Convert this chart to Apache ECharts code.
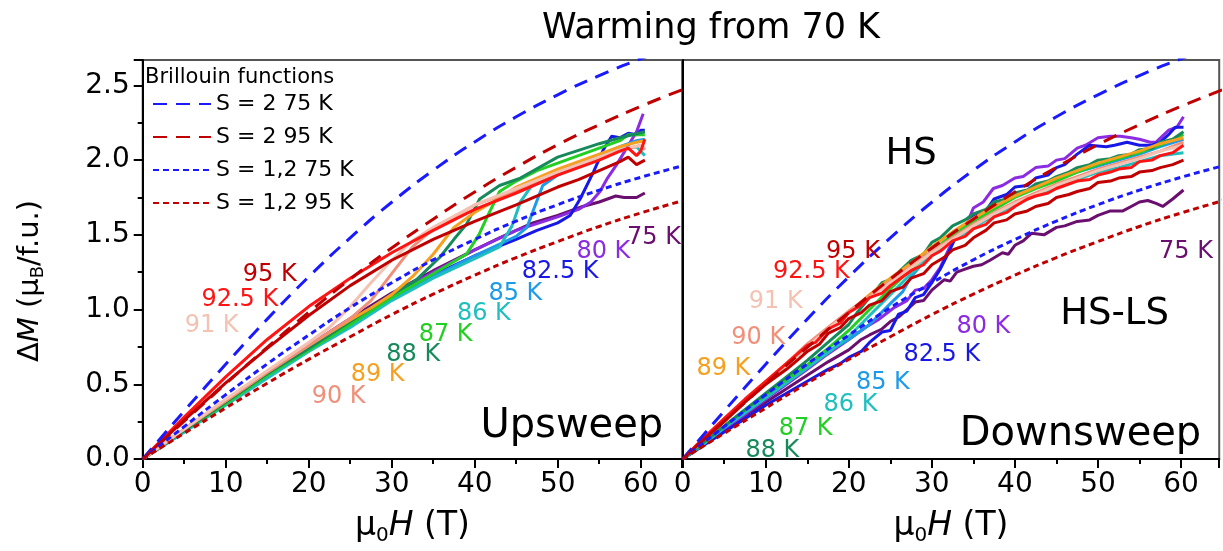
<!DOCTYPE html>
<html><head><meta charset="utf-8">
<script src="https://cdn.jsdelivr.net/npm/echarts@6/dist/echarts.min.js"></script>
<style>html,body{margin:0;padding:0;background:#fff}#c{width:1223px;height:551px}</style>
</head><body><div id="c"></div>
<script>
const FONT = '"DejaVu Sans", sans-serif';

// ---- temperatures & colours ----
const temps = ['75 K','80 K','82.5 K','85 K','86 K','87 K','88 K','89 K','90 K','91 K','92.5 K','95 K'];
const tempColors = ['#6b0f6f','#8b2be2','#1818e6','#1e9be8','#1fbfbf','#22cf22','#178a5c','#f5a01f','#f0907a','#f4c2b3','#ff1414','#c00000'];

// ---- Brillouin functions (field grid, values) ----
const bField = [0,5,10,15,20,25,30,35,40,45,50,55,60,65];
const bS2_75  = [0,0.321,0.634,0.936,1.219,1.480,1.718,1.932,2.122,2.290,2.437,2.566,2.678,2.780];
const bS2_95  = [0,0.253,0.503,0.747,0.981,1.204,1.412,1.605,1.787,1.952,2.103,2.237,2.360,2.471];
const bS12_75 = [0,0.217,0.430,0.636,0.829,1.013,1.179,1.333,1.469,1.592,1.702,1.799,1.885,1.961];
const bS12_95 = [0,0.172,0.341,0.507,0.667,0.818,0.966,1.103,1.230,1.348,1.455,1.556,1.646,1.728];

// ---- Upsweep data [field T, dM] ----
const up75 = [[0,0],[5,0.2],[10,0.39],[15,0.58],[20,0.76],[25,0.94],[30,1.11],[35,1.26],[40,1.4],[43,1.48],[45,1.53],[47,1.58],[50,1.63],[53,1.69],[55,1.72],[57,1.76],[58,1.75],[59.5,1.75],[60.5,1.78]];
const up80 = [[0,0],[5,0.19],[10,0.38],[15,0.57],[20,0.75],[25,0.92],[30,1.1],[35,1.25],[40,1.4],[45,1.53],[50,1.62],[52.5,1.67],[54,1.72],[55.1,1.79],[56,1.88],[57.1,1.97],[58.3,2.08],[59.5,2.19],[60.3,2.31]];
const up82 = [[0,0],[5,0.19],[10,0.38],[15,0.56],[20,0.74],[25,0.91],[30,1.09],[35,1.23],[40,1.36],[45,1.47],[47.5,1.53],[50,1.58],[51.5,1.63],[52.7,1.74],[54.3,1.92],[55.5,2.07],[56.5,2.16],[57.5,2.15],[58.5,2.18],[59.5,2.17],[60,2.2],[60.5,2.2]];
const up85 = [[0,0],[5,0.18],[10,0.37],[15,0.55],[20,0.73],[25,0.89],[30,1.07],[35,1.22],[40,1.36],[45,1.49],[46.3,1.55],[47.3,1.7],[48.2,1.83],[50,1.9],[55,2.03],[57.5,2.09],[59.5,2.13],[60.5,2.14]];
const up86 = [[0,0],[5,0.18],[10,0.36],[15,0.54],[20,0.72],[25,0.88],[30,1.06],[35,1.21],[40,1.34],[43,1.42],[44.5,1.56],[45.5,1.72],[47,1.84],[50,1.92],[55,2.03],[57.5,2.07],[59.5,2.09],[60.5,2.03]];
const up87 = [[0,0],[5,0.19],[10,0.37],[15,0.56],[20,0.73],[25,0.9],[30,1.08],[35,1.24],[39,1.37],[40.5,1.5],[41.5,1.62],[43,1.79],[45,1.86],[47.5,1.93],[50,1.98],[55,2.08],[57.5,2.13],[58.5,2.17],[60.5,2.17]];
const up88 = [[0,0],[5,0.19],[10,0.38],[15,0.57],[20,0.74],[25,0.92],[30,1.1],[33,1.2],[35.8,1.35],[37.5,1.47],[39,1.57],[40.6,1.74],[43,1.83],[45.5,1.88],[50,2.02],[55,2.11],[57.5,2.15],[59,2.17],[60.5,2.19]];
const up89 = [[0,0],[5,0.2],[10,0.39],[15,0.58],[20,0.76],[25,0.93],[27.5,1.01],[30,1.1],[32.5,1.22],[35,1.37],[37.5,1.55],[40,1.65],[42.5,1.73],[45,1.82],[50,1.94],[55,2.04],[57.5,2.09],[59.5,2.12],[60.5,2.13]];
const up90 = [[0,0],[5,0.2],[10,0.39],[15,0.58],[20,0.76],[25,0.94],[27.5,1.06],[30,1.24],[32.5,1.42],[35,1.54],[37.5,1.62],[40,1.7],[45,1.8],[50,1.92],[55,2.02],[57.5,2.06],[60,2.1],[60.5,2.07]];
const up91 = [[0,0],[5,0.2],[10,0.4],[15,0.59],[20,0.78],[22.5,0.88],[25,1.02],[27.5,1.18],[30,1.33],[32.5,1.46],[35,1.55],[40,1.7],[45,1.81],[50,1.92],[55,2.02],[57.5,2.07],[60,2.1],[60.5,2.08]];
const up92 = [[0,0],[5,0.28],[10,0.55],[15,0.8],[20,1.02],[25,1.21],[30,1.38],[35,1.53],[40,1.67],[45,1.78],[50,1.9],[52.5,1.95],[55,2.0],[57.5,2.06],[58.5,2.08],[59.5,2.03],[60,2.06],[60.5,2.14]];
const up95 = [[0,0],[5,0.26],[10,0.51],[15,0.74],[20,0.96],[25,1.16],[30,1.33],[35,1.47],[40,1.59],[45,1.7],[50,1.82],[52.5,1.87],[55,1.93],[57.5,1.99],[58.5,2.02],[59.5,1.97],[60.5,2.0]];

// ---- Downsweep data [field T, dM] ----
const dw75 = [[0,0],[2.5,0.1],[5,0.19],[7.5,0.29],[10,0.38],[12.5,0.47],[15,0.56],[17.5,0.65],[20,0.73],[21.5,0.8],[22.5,0.83],[24,0.87],[25,0.92],[26,0.95],[27,1.0],[28,1.05],[29,1.06],[30,1.13],[31.5,1.2],[32.2,1.19],[33,1.25],[34,1.27],[35,1.29],[36,1.3],[37,1.33],[38.5,1.38],[39.2,1.37],[40,1.43],[41,1.46],[42,1.51],[43.5,1.5],[45,1.55],[46,1.56],[47.5,1.59],[49,1.6],[50,1.63],[51.5,1.66],[53,1.66],[54,1.69],[55,1.72],[56,1.73],[57,1.71],[57.8,1.69],[59,1.74],[60.3,1.8]];
const dw80 = [[0,0],[2.5,0.1],[5,0.2],[7.5,0.3],[10,0.4],[12.5,0.5],[15,0.6],[17.4,0.7],[20,0.8],[22,0.88],[23.5,0.93],[25.4,1.01],[27,1.06],[28,1.13],[29,1.14],[30,1.2],[31,1.28],[32,1.4],[33,1.5],[34.2,1.57],[35,1.68],[36.2,1.72],[37.4,1.81],[38.5,1.83],[40,1.88],[41,1.89],[42.5,1.95],[44,1.96],[45,2.0],[46,2.01],[47.5,2.08],[48.5,2.1],[50,2.15],[51.5,2.16],[52.7,2.16],[54,2.15],[55,2.14],[56.3,2.12],[57,2.12],[58.5,2.2],[59.5,2.22],[60.3,2.29]];
const dw82 = [[0,0],[2.5,0.09],[5,0.18],[7.5,0.27],[10,0.36],[12.5,0.44],[15,0.52],[17.5,0.6],[19,0.64],[20,0.68],[21.5,0.72],[22.5,0.78],[24,0.85],[25,0.86],[26,0.97],[27,0.99],[28,1.08],[29,1.1],[30,1.18],[31,1.27],[32,1.38],[33,1.5],[34,1.55],[35,1.62],[36.5,1.66],[37.5,1.74],[39,1.77],[40,1.82],[41.5,1.83],[42.5,1.88],[44,1.9],[45,1.95],[46,1.97],[47.5,2.04],[49,2.1],[51,2.09],[52,2.1],[53.5,2.12],[55,2.1],[56.5,2.1],[57.5,2.12],[58.5,2.17],[59.3,2.22],[60.3,2.22]];
const dw85 = [[0,0],[2.5,0.1],[5,0.21],[7.5,0.31],[10,0.41],[12.5,0.51],[15,0.61],[17.5,0.72],[20,0.8],[22.5,0.9],[25,1.04],[26.5,1.12],[27.5,1.22],[30,1.38],[32.5,1.5],[35,1.6],[37.5,1.69],[40,1.76],[42.5,1.82],[45,1.87],[47.5,1.92],[50,1.96],[52.5,2.0],[55,2.04],[57.5,2.09],[60.3,2.14]];
const dw86 = [[0,0],[2.5,0.1],[5,0.21],[7.5,0.31],[10,0.41],[12.5,0.51],[15,0.61],[17.5,0.71],[20,0.82],[22.5,0.96],[25,1.1],[27.5,1.24],[30,1.36],[32.5,1.46],[35,1.55],[37.5,1.63],[40,1.7],[42.5,1.76],[45,1.82],[47.5,1.87],[50,1.92],[52.5,1.95],[55,1.99],[57.5,2.03],[60.3,2.05]];
const dw87 = [[0,0],[2.5,0.11],[5,0.22],[7.5,0.33],[10,0.43],[12.5,0.53],[15,0.63],[17.5,0.74],[20,0.86],[22.5,1.0],[25,1.14],[27.5,1.27],[30,1.39],[32.5,1.5],[35,1.59],[37.5,1.67],[40,1.75],[42.5,1.81],[45,1.86],[47.5,1.92],[50,1.97],[52.5,2.01],[55,2.05],[57.5,2.1],[60.3,2.17]];
const dw88 = [[0,0],[2.5,0.11],[5,0.22],[7.5,0.33],[10,0.44],[12.5,0.55],[15,0.66],[17.5,0.78],[20,0.9],[21,0.98],[22.5,1.08],[24,1.18],[25,1.2],[26,1.25],[27.5,1.33],[29,1.37],[30,1.45],[31,1.48],[32.5,1.56],[34,1.6],[35,1.64],[36.5,1.67],[37.5,1.72],[39,1.74],[40,1.78],[41.5,1.8],[42.5,1.84],[44,1.86],[45,1.89],[46.5,1.92],[47.5,1.95],[49,1.97],[50,2.0],[51.5,2.01],[52.5,2.03],[54,2.04],[55,2.07],[56.5,2.08],[57.5,2.12],[59,2.14],[60.3,2.19]];
const dw89 = [[0,0],[2.5,0.13],[5,0.26],[7.5,0.39],[10,0.51],[12.5,0.63],[15,0.75],[17.5,0.87],[20,0.98],[22.5,1.1],[25,1.21],[27.5,1.31],[30,1.42],[32.5,1.52],[35,1.61],[37.5,1.69],[40,1.76],[42.5,1.82],[45,1.88],[47.5,1.93],[50,1.98],[52.5,2.02],[55,2.06],[57.5,2.11],[60.3,2.15]];
const dw90 = [[0,0],[2.5,0.13],[5,0.27],[7.5,0.4],[10,0.52],[12.5,0.64],[15,0.77],[17.5,0.88],[20,0.99],[22.5,1.09],[25,1.19],[27.5,1.29],[30,1.39],[32.5,1.48],[35,1.57],[37.5,1.65],[40,1.72],[42.5,1.78],[45,1.84],[47.5,1.89],[50,1.94],[52.5,1.98],[55,2.02],[57.5,2.06],[60.3,2.12]];
const dw91 = [[0,0],[2.5,0.13],[5,0.26],[7.5,0.39],[10,0.51],[12.5,0.63],[15,0.75],[17.5,0.87],[20,0.98],[22.5,1.08],[25,1.18],[27.5,1.28],[30,1.38],[32.5,1.47],[35,1.56],[37.5,1.64],[40,1.71],[42.5,1.77],[45,1.83],[47.5,1.88],[50,1.93],[52.5,1.97],[55,2.01],[57.5,2.06],[60.3,2.1]];
const dw92 = [[0,0],[2.5,0.14],[5,0.27],[7.5,0.4],[10,0.52],[12.5,0.64],[15,0.76],[16,0.78],[17.5,0.87],[19,0.91],[20,0.98],[21.5,1.03],[22.5,1.08],[24,1.11],[25,1.16],[26.5,1.22],[27.5,1.26],[29,1.3],[30,1.36],[31,1.39],[32.5,1.46],[34,1.49],[35,1.54],[36.5,1.57],[37.5,1.62],[39,1.65],[40,1.69],[41.5,1.74],[42.5,1.76],[44,1.78],[45,1.81],[46.5,1.84],[47.5,1.86],[49,1.87],[50,1.9],[51.5,1.92],[52.5,1.94],[54,1.95],[55,1.99],[56.5,2.0],[57.5,2.03],[59,2.05],[60.3,2.1]];
const dw95 = [[0,0],[2.5,0.13],[5,0.25],[7.5,0.38],[10,0.5],[12.5,0.6],[14,0.67],[15,0.72],[16.5,0.77],[17.5,0.84],[19,0.88],[20,0.94],[21.5,0.98],[22.5,1.03],[24,1.06],[25,1.12],[26.5,1.15],[27.5,1.21],[29,1.24],[30,1.3],[31.5,1.35],[32.5,1.4],[34,1.43],[35,1.48],[36.5,1.53],[37.5,1.58],[39,1.6],[40,1.64],[41.5,1.66],[42.5,1.69],[44,1.71],[45,1.75],[46.5,1.77],[47.5,1.79],[49,1.81],[50,1.85],[51.5,1.86],[52.5,1.88],[54,1.89],[55,1.92],[56.5,1.93],[57.5,1.95],[59,1.97],[60.3,2.0]];

// ---- tick labels ----
const xTickLabels = ['0','10','20','30','40','50','60'];
const yTickLabels = ['0.0','0.5','1.0','1.5','2.0','2.5'];

// ---- text annotations [field, dM, text] ----
const upLabels = [[15.3,1.266,'95 K'],[11.7,1.10,'92.5 K'],[8.3,0.927,'91 K'],[23.6,0.449,'90 K'],[28.3,0.598,'89 K'],[32.6,0.73,'88 K'],[36.5,0.867,'87 K'],[41.1,1.007,'86 K'],[44.9,1.14,'85 K'],[50.3,1.286,'82.5 K'],[55.5,1.425,'80 K'],[61.6,1.518,'75 K']];
const downLabels = [[20.5,1.42,'95 K'],[15.5,1.286,'92.5 K'],[11.2,1.09,'91 K'],[9.1,0.847,'90 K'],[4.9,0.641,'89 K'],[10.8,0.09,'88 K'],[14.8,0.239,'87 K'],[20.2,0.40,'86 K'],[24.1,0.548,'85 K'],[31.2,0.734,'82.5 K'],[36.2,0.918,'80 K'],[60.6,1.42,'75 K']];
const upPanelText = [[51.7,0.276,'Upsweep']];
const downPanelText = [[47.9,0.222,'Downsweep']];
const downRegionText = [[27.5,2.09,'HS'],[52.0,1.02,'HS-LS']];

const upData = [up75,up80,up82,up85,up86,up87,up88,up89,up90,up91,up92,up95];
const downData = [dw75,dw80,dw82,dw85,dw86,dw87,dw88,dw89,dw90,dw91,dw92,dw95];

const brill = [
  {name:'S = 2 75 K', vals:bS2_75, color:'#1a1aff', dash:[14,9]},
  {name:'S = 2 95 K', vals:bS2_95, color:'#c00000', dash:[14,9]},
  {name:'S = 1,2 75 K', vals:bS12_75, color:'#1a1aff', dash:[6,4]},
  {name:'S = 1,2 95 K', vals:bS12_95, color:'#c00000', dash:[6,4]}
];

const series = [];
[upData, downData].forEach((set, panel) => {
  set.forEach((d, i) => {
    series.push({
      name: temps[i], type:'line', xAxisIndex:panel, yAxisIndex:panel, data:d,
      symbol:'none', smooth:false, silent:true, z:2,
      lineStyle:{color:tempColors[i], width:3}, itemStyle:{color:tempColors[i]}
    });
  });
  brill.forEach(b => {
    series.push({
      name:b.name, type:'line', xAxisIndex:panel, yAxisIndex:panel,
      data: bField.map((h,k)=>[h,b.vals[k]]), symbol:'none', smooth:true, silent:true, z:3, clip:true,
      lineStyle:{color:b.color, width:3, type:b.dash}, itemStyle:{color:b.color}
    });
  });
});

function colorOf(t){ const k = temps.indexOf(t); return k>=0 ? tempColors[k] : '#000'; }
function textSeries(arr, panel, size, black){
  return {
    type:'custom', coordinateSystem:'cartesian2d', xAxisIndex:panel, yAxisIndex:panel, silent:true, z:10,
    data: arr.map(a => [a[0], a[1]]),
    renderItem: (params, api) => {
      const a = arr[params.dataIndex];
      const p = api.coord([api.value(0), api.value(1)]);
      return {type:'text', x:p[0], y:p[1] + size*0.22, style:{text:a[2], fill: black ? '#000' : colorOf(a[2]),
        font: size + 'px "DejaVu Sans", sans-serif', align:'center', verticalAlign:'middle'}};
    }
  };
}
series.push(textSeries(upLabels,0,24,false));
series.push(textSeries(downLabels,1,24,false));
series.push(textSeries(upPanelText,0,40,true));
series.push(textSeries(downPanelText,1,40,true));
series.push(textSeries(downRegionText,1,37,true));

const axisBlack = {lineStyle:{color:'#000', width:2}};
const richName = {
  a:{fontSize:33, fontFamily:FONT, color:'#000', lineHeight:40, verticalAlign:'middle'},
  i:{fontSize:33, fontFamily:FONT, color:'#000', fontStyle:'italic', lineHeight:40, verticalAlign:'middle'},
  s:{fontSize:20, fontFamily:FONT, color:'#000', lineHeight:14, verticalAlign:'bottom'}
};
function xAx(panel, max){
  return {
    type:'value', gridIndex:panel, min:0, max:max, interval:10,
    axisLine:axisBlack,
    axisTick:{show:true, inside:false, length:9, lineStyle:{color:'#000', width:2}},
    minorTick:{show:true, splitNumber:2, length:5, lineStyle:{color:'#000', width:2}},
    splitLine:{show:false}, minorSplitLine:{show:false},
    axisLabel:{fontSize:28, fontFamily:FONT, color:'#000', margin:12,
      formatter: v => { const s = String(Math.round(v)); return (Math.abs(v/10-Math.round(v/10))<1e-6 && xTickLabels.includes(s)) ? s : ''; }},
    name:'{a|μ}{s|0}{i|H}{a| (T)}', nameLocation:'middle', nameGap:47,
    nameTextStyle:{rich:richName}
  };
}
function yAx(panel, showLabels){
  return {
    type:'value', gridIndex:panel, min:0, max:2.67, interval:0.5,
    axisLine:axisBlack,
    axisTick:{show:showLabels, length:9, lineStyle:{color:'#000', width:2}},
    minorTick:{show:showLabels, splitNumber:2, length:5, lineStyle:{color:'#000', width:2}},
    splitLine:{show:false}, minorSplitLine:{show:false},
    axisLabel:{show:showLabels, fontSize:28, fontFamily:FONT, color:'#000', margin:13,
      formatter: v => { const s = v.toFixed(1); return (Math.abs(v*2-Math.round(v*2))<1e-6 && yTickLabels.includes(s)) ? s : ''; }}
  };
}

const option = {
  animation:false,
  backgroundColor:'#fff',
  title:{text:'Warming from 70 K', left:706, top:6, textAlign:'center',
    textStyle:{fontSize:35, fontWeight:'normal', fontFamily:FONT, color:'#000'}},
  legend:{
    data: brill.map(b=>b.name), orient:'vertical', left:147, top:88,
    itemWidth:58, itemHeight:20, itemGap:11, itemTextGap:8, selectedMode:false,
    itemStyle:{opacity:0},
    textStyle:{fontSize:22, fontFamily:FONT, color:'#000'}
  },
  graphic:[
    {type:'text', left:145, top:67, z:20,
      style:{text:'Brillouin functions', font:'21px "DejaVu Sans", sans-serif', fill:'#000'}},
    {type:'text', x:30, y:281, rotation:Math.PI/2, z:20,
      style:{text:'{a|Δ}{i|M}{a| (μ}{s|B}{a|/f.u.)}', rich:{
        a:{fontSize:29, fontFamily:FONT, fill:'#000', lineHeight:34, verticalAlign:'middle'},
        i:{fontSize:29, fontFamily:FONT, fill:'#000', fontStyle:'italic', lineHeight:34, verticalAlign:'middle'},
        s:{fontSize:18, fontFamily:FONT, fill:'#000', lineHeight:12, verticalAlign:'bottom'}
      }, align:'center', verticalAlign:'middle'}}
  ],
  grid:[
    {left:142.7, top:60, width:539.5, height:402.5, show:true, borderColor:'#555', borderWidth:2, backgroundColor:'transparent'},
    {left:682.7, top:60, width:536.5, height:402.5, show:true, borderColor:'#555', borderWidth:2, backgroundColor:'transparent'}
  ],
  xAxis:[xAx(0,65), xAx(1,64.6)],
  yAxis:[yAx(0,true), yAx(1,false)],
  series: series
};
const chart = echarts.init(document.getElementById('c'));
chart.setOption(option);
</script></body></html>
